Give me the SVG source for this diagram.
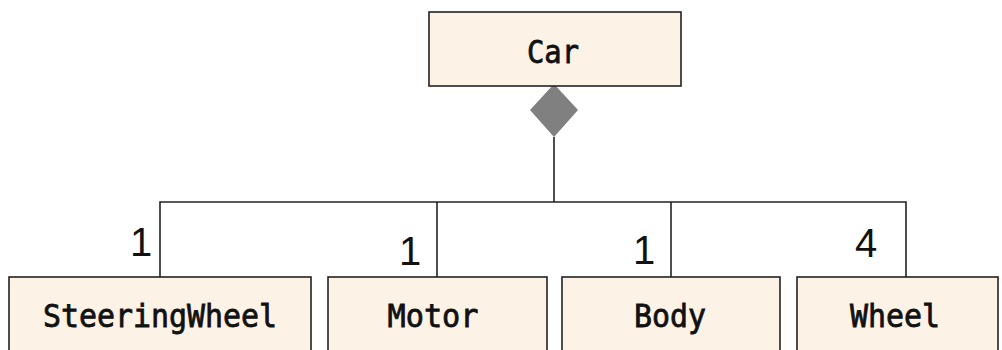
<svg xmlns="http://www.w3.org/2000/svg" width="1002" height="350" viewBox="0 0 1002 350">
<style>
.box{fill:#fdf2e6;stroke:#222;stroke-width:1.6}
.name{font-family:"DejaVu Sans Mono",monospace;font-size:32px;fill:#111;stroke:#111;stroke-width:0.8;text-anchor:middle}
.mult{font-family:"Liberation Sans","DejaVu Sans",sans-serif;font-size:40px;fill:#111;text-anchor:middle}
.line{fill:none;stroke:#222;stroke-width:1.6}
</style>
<rect width="1002" height="350" fill="#fff"/>
<g id="connectors">
<polygon points="554,84 578,110 554,137 530,110" fill="#808080"/>
<line class="line" x1="554" y1="137" x2="554" y2="202"/>
<polyline class="line" points="160,277 160,202 906,202 906,277"/>
<line class="line" x1="437" y1="202" x2="437" y2="277"/>
<line class="line" x1="671" y1="202" x2="671" y2="277" stroke="#555"/>
<text class="mult" x="141" y="256">1</text>
<text class="mult" x="410" y="265">1</text>
<text class="mult" x="644" y="264">1</text>
<text class="mult" x="866" y="257">4</text>
</g>
<g id="car"><rect class="box" x="429" y="12" width="252" height="74"/><text class="name" x="553" y="63" font-size="34" textLength="52" lengthAdjust="spacingAndGlyphs">Car</text></g>
<g id="steeringwheel"><rect class="box" x="9" y="277" width="302" height="80"/><text class="name" x="160" y="327" textLength="234" lengthAdjust="spacingAndGlyphs">SteeringWheel</text></g>
<g id="motor"><rect class="box" x="328" y="277" width="219" height="80"/><text class="name" x="433" y="327" textLength="91" lengthAdjust="spacingAndGlyphs">Motor</text></g>
<g id="body"><rect class="box" x="562" y="277" width="218" height="80"/><text class="name" x="670" y="327" textLength="72" lengthAdjust="spacingAndGlyphs">Body</text></g>
<g id="wheel"><rect class="box" x="797" y="277" width="201" height="80"/><text class="name" x="895" y="327" textLength="90" lengthAdjust="spacingAndGlyphs">Wheel</text></g>
</svg>
